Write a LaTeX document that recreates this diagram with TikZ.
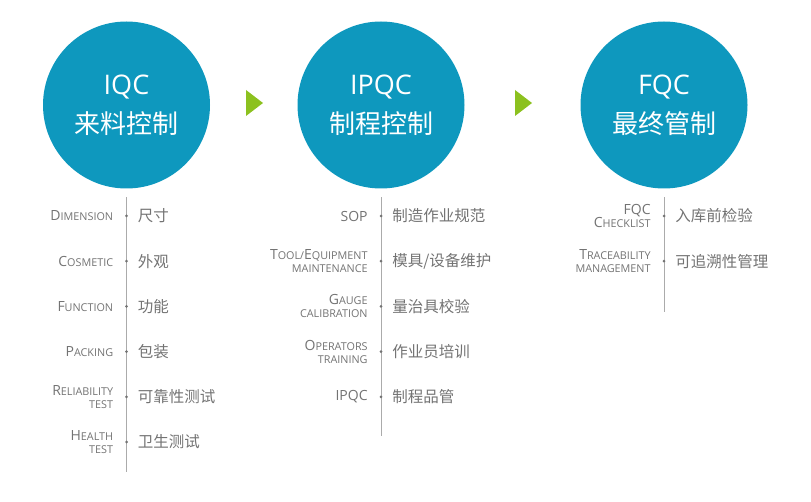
\documentclass[tikz,border=0pt]{standalone}
\usepackage{fontspec}
\setmainfont{Open Sans}
\newfontfamily\cjk{Noto Sans CJK SC}
\usepackage{tikz}
\usetikzlibrary{positioning}
\definecolor{stageBlue}{HTML}{0E98BE}
\definecolor{stepGreen}{HTML}{8CC11F}
\definecolor{labelGray}{HTML}{737373}
\definecolor{ruleGray}{HTML}{ABABAB}
\newcommand\sm[1]{{\fontsize{10.8}{13}\selectfont #1}}

\begin{document}
\begin{tikzpicture}[x=1pt, y=-1pt,
  stage/.style={circle, fill=stageBlue, minimum size=167pt, inner sep=0pt},
  titleEn/.style={text=white, inner sep=0pt, font=\fontsize{27}{30}\selectfont},
  titleZh/.style={text=white, inner sep=0pt, font=\cjk\fontsize{26}{30}\selectfont},
  dot/.style={circle, fill=labelGray, minimum size=3pt, inner sep=0pt},
  enLabel/.style={text=labelGray, inner sep=0pt, align=right, font=\fontsize{14}{13}\selectfont},
  zhLabel/.style={text=labelGray, inner sep=0pt, font=\cjk\fontsize{15.5}{18}\selectfont},
  rule/.style={draw=ruleGray, line width=0.8pt}]
  \useasboundingbox (0,0) rectangle (811,502);

  % the three stages
  \node[stage] (iqc) at (126.5,105) {};
  \node[stage] (ipqc) at (381,105) {};
  \node[stage] (fqc) at (664,105) {};
  \node[titleEn] (iqc-en) at ([yshift=17.5pt]iqc.center) {IQC};
  \node[titleZh] (iqc-zh) at ([yshift=-19pt]iqc.center) {来料控制};
  \node[titleEn] (ipqc-en) at ([yshift=17.5pt]ipqc.center) {IPQC};
  \node[titleZh] (ipqc-zh) at ([yshift=-19pt]ipqc.center) {制程控制};
  \node[titleEn] (fqc-en) at ([yshift=17.5pt]fqc.center) {FQC};
  \node[titleZh] (fqc-zh) at ([yshift=-19pt]fqc.center) {最终管制};

  % green steps between them
  \coordinate (step1) at (254.5,103);
  \coordinate (step2) at (523.5,103);
  \fill[stepGreen] (step1) ++(-8.5,-13) -- ++(17,13) -- ++(-17,13) -- cycle;
  \fill[stepGreen] (step2) ++(-8.5,-13) -- ++(17,13) -- ++(-17,13) -- cycle;

  % check lists
  \draw[rule] ([yshift=-8.5pt]iqc.south) -- ++(0,275);
  \draw[rule] ([yshift=-8.5pt]ipqc.south) -- ++(0,239);
  \draw[rule] ([yshift=-8.5pt]fqc.south) -- ++(0,115);

  \foreach \en/\zh [count=\i] in {
      {D\sm{IMENSION}}/尺寸,
      {C\sm{OSMETIC}}/外观,
      {F\sm{UNCTION}}/功能,
      {P\sm{ACKING}}/包装,
      {R\sm{ELIABILITY}\\\sm{TEST}}/可靠性测试,
      {H\sm{EALTH}\\\sm{TEST}}/卫生测试} {
    \node[dot] (iqc-\i) at (126.5,{216+45.2*(\i-1)}) {};
    \node[enLabel, left=11.5pt of iqc-\i] (iqc-\i-en) {\en};
    \node[zhLabel, right=9.5pt of iqc-\i] (iqc-\i-zh) {\zh};
  }

  \foreach \en/\zh [count=\i] in {
      {SOP}/制造作业规范,
      {T\sm{OOL/}E\sm{QUIPMENT}\\\sm{MAINTENANCE}}/{模具/设备维护},
      {G\sm{AUGE}\\\sm{CALIBRATION}}/量治具校验,
      {O\sm{PERATORS}\\\sm{TRAINING}}/作业员培训,
      {IPQC}/制程品管} {
    \node[dot] (ipqc-\i) at (381,{216+45.2*(\i-1)}) {};
    \node[enLabel, left=11.5pt of ipqc-\i] (ipqc-\i-en) {\en};
    \node[zhLabel, right=9.5pt of ipqc-\i] (ipqc-\i-zh) {\zh};
  }

  \foreach \en/\zh [count=\i] in {
      {FQC\\C\sm{HECKLIST}}/入库前检验,
      {T\sm{RACEABILITY}\\\sm{MANAGEMENT}}/可追溯性管理} {
    \node[dot] (fqc-\i) at (664,{216+45.2*(\i-1)}) {};
    \node[enLabel, left=11.5pt of fqc-\i] (fqc-\i-en) {\en};
    \node[zhLabel, right=9.5pt of fqc-\i] (fqc-\i-zh) {\zh};
  }
\end{tikzpicture}
\end{document}
